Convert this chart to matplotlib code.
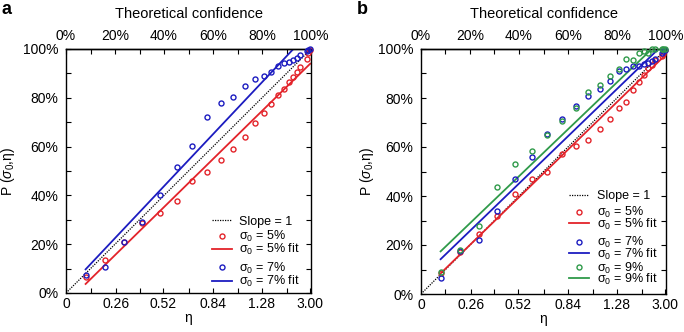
import math

import matplotlib
matplotlib.use("Agg")
import matplotlib.pyplot as plt
from matplotlib.legend import Legend
from matplotlib.ticker import FixedLocator, MultipleLocator, FuncFormatter

# ── Data ─────────────────────────────────────────────────────────────────────
# eta values of the measured points, P(sigma0, eta) in percent
ETA = [0.1, 0.2, 0.3, 0.4, 0.5, 0.6, 0.7, 0.8, 0.9, 1.0,
       1.1, 1.2, 1.3, 1.4, 1.5, 1.6, 1.7, 1.8, 1.9, 2.0,
       2.4, 2.5, 3.0]

A_S5 = [6.7, 13.5, 21.0, 28.6, 32.7, 37.8, 45.9, 49.7, 54.5, 59.1,
        63.9, 69.5, 73.9, 77.5, 81.1, 83.5, 86.3, 88.4, 90.6, 92.5,
        95.8, 98.2, 99.7]
A_S7 = [7.2, 10.5, 21.0, 29.2, 40.3, 51.5, 60.2, 72.1, 77.7, 80.3,
        84.7, 87.7, 89.1, 90.7, 93.0, 94.1, 94.6, 95.5, 96.2, 97.5,
        99.0, 99.7, 99.9]

B_S5 = [8.5, 17.0, 24.4, 31.7, 40.7, 46.9, 50.0, 57.0, 60.4, 62.9,
        67.3, 71.3, 76.0, 78.4, 83.3, 86.7, 89.5, 92.2, 93.6, 95.5,
        97.0, 98.0, 99.5]
B_S7 = [6.7, 17.7, 22.0, 33.9, 46.9, 55.8, 65.3, 71.6, 76.7, 80.8,
        83.7, 86.9, 91.0, 91.8, 93.2, 93.1, 93.8, 94.4, 95.0, 95.8,
        98.5, 99.3, 99.6]
B_S9 = [9.0, 18.0, 27.6, 43.8, 53.1, 58.5, 65.0, 70.5, 75.8, 82.6,
        85.3, 89.1, 91.8, 95.8, 95.5, 98.5, 99.3, 98.5, 99.9, 99.9,
        100.0, 100.0, 100.0]

# linear fits: end points as (confidence %, P %)
A_FIT5 = ([8.0, 99.7], [3.7, 94.0])
A_FIT7 = ([8.0, 92.8], [9.7, 100.0])
B_FIT5 = ([8.0, 99.7], [8.4, 97.5])
B_FIT7 = ([8.0, 96.9], [14.2, 100.0])
B_FIT9 = ([8.0, 94.2], [17.4, 100.0])

ETA_TICKS = [0, 0.26, 0.52, 0.84, 1.28, 3.00]
ETA_LABELS = ["0", "0.26", "0.52", "0.84", "1.28", "3.00"]
CONF_TICKS = [0, 20, 40, 60, 80, 100]

# ── Style ────────────────────────────────────────────────────────────────────
RED = "#e3232a"
BLUE = "#1c1cc0"
GREEN = "#2f9a4a"

plt.rcParams.update({
    "font.family": ["Liberation Sans", "DejaVu Sans"],
    "font.size": 10,
    "mathtext.fontset": "custom",
    "mathtext.rm": "Liberation Sans",
    "mathtext.it": "Liberation Sans:italic",
    "axes.linewidth": 1.0,
})


def conf(etas):
    """two-sided normal confidence (in %) for a given eta"""
    return [100 * math.erf(e / math.sqrt(2)) for e in etas]


def style(ax, ylab_x):
    ax.set_xlim(0, 100)
    ax.set_ylim(0, 100)
    ax.xaxis.set_major_locator(FixedLocator(conf(ETA_TICKS)))
    ax.set_xticklabels(ETA_LABELS)
    ax.xaxis.set_minor_locator(FixedLocator([10, 30, 50, 70, 90]))
    ax.yaxis.set_major_locator(MultipleLocator(20))
    ax.yaxis.set_minor_locator(MultipleLocator(10))
    ax.yaxis.set_major_formatter(FuncFormatter(lambda v, _: f"{v:.0f}%"))
    ax.tick_params(which="both", direction="in", length=3.5, width=0.8,
                   right=True, top=False)
    ax.tick_params(axis="x", pad=3)
    ax.tick_params(axis="y", pad=5.5)
    ax.set_xlabel("η")
    ax.xaxis.set_label_coords(0.5, -0.075)
    ax.xaxis.label.set_va("top")
    ax.set_ylabel(r"P ($\sigma_0$,η)")
    ax.yaxis.set_label_coords(ylab_x, 0.5)

    top = ax.secondary_xaxis("top")
    top.set_xticks(CONF_TICKS)
    top.set_xticklabels([f"{c}%" for c in CONF_TICKS])
    top.xaxis.set_minor_locator(MultipleLocator(10))
    top.tick_params(which="both", direction="in", length=3.5, width=0.8, pad=4)
    top.set_xlabel("Theoretical confidence", fontsize=10.5, labelpad=8)


def key(ax, handle, label, x, y):
    leg = Legend(ax, [handle], [label], loc="center left", bbox_to_anchor=(x, y),
                 frameon=False, borderpad=0, borderaxespad=0,
                 handlelength=1.6, handletextpad=0.6, fontsize=9, numpoints=1)
    ax.add_artist(leg)


def panel(ax, series, fits, colors, labels, key_x, key_y, ylab_x):
    x = conf(ETA)
    slope, = ax.plot([0, 100], [0, 100], color="black",
                     linestyle=(0, (1, 1)), linewidth=0.9)
    handles = [slope]
    names = ["Slope = 1"]
    for vals, fit, c, lab in zip(series, fits, colors, labels):
        pts, = ax.plot(x, vals, "o", mfc="none", mec=c, ms=3.6, mew=1.0,
                       clip_on=False, zorder=3)
        ln, = ax.plot(fit[0], fit[1], color=c, linewidth=1.3)
        handles += [pts, ln]
        names += [lab, lab + " fit"]
    for h, n, y in zip(handles, names, key_y):
        key(ax, h, n, key_x, y)
    style(ax, ylab_x)


fig = plt.figure(figsize=(6.84, 3.32), dpi=100)
ax_a = fig.add_axes([66 / 684, 39 / 332, 245 / 684, 244 / 332])
ax_b = fig.add_axes([421 / 684, 38 / 332, 245 / 684, 245 / 332])

panel(ax_a, [A_S5, A_S7], [A_FIT5, A_FIT7], [RED, BLUE],
      [r"σ$_0$ = 5%", r"σ$_0$ = 7%"],
      0.595, [0.292, 0.231, 0.177, 0.101, 0.046], -0.20)
panel(ax_b, [B_S5, B_S7, B_S9], [B_FIT5, B_FIT7, B_FIT9], [RED, BLUE, GREEN],
      [r"σ$_0$ = 5%", r"σ$_0$ = 7%", r"σ$_0$ = 9%"],
      0.605, [0.400, 0.332, 0.284, 0.209, 0.162, 0.105, 0.060], -0.185)

fig.text(2 / 684, 1 - 1 / 332, "a", fontsize=13, fontweight="bold", va="top")
fig.text(357 / 684, 1 - 1 / 332, "b", fontsize=13, fontweight="bold", va="top")

fig.savefig("out.png", dpi=100)
